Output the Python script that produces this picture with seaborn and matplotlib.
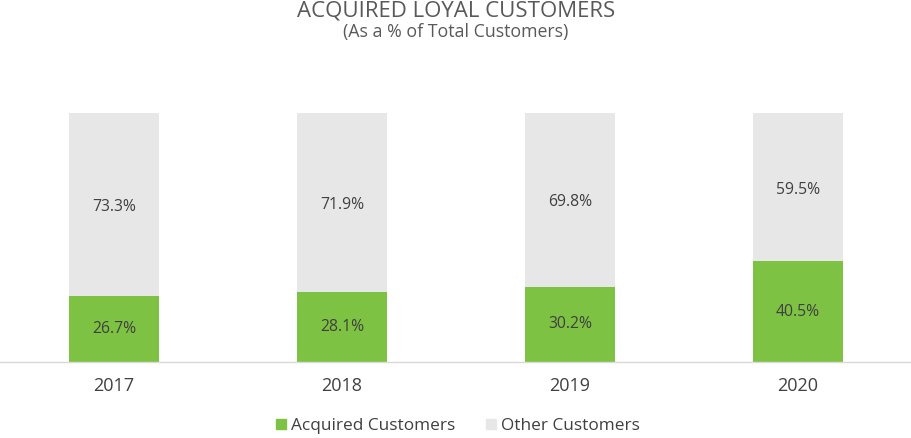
import matplotlib.pyplot as plt
from matplotlib.lines import Line2D
import pandas as pd
import seaborn as sns

sns.set_theme(style="white")
plt.rcParams['font.family'] = ['Open Sans', 'DejaVu Sans']

years = ["2017", "2018", "2019", "2020"]
acquired = [26.7, 28.1, 30.2, 40.5]
other = [73.3, 71.9, 69.8, 59.5]

green = "#7DC242"
grey = "#E7E7E7"
text_col = "#404040"

df = pd.DataFrame({"year": years, "acquired": acquired, "other": other})
df["total"] = df["acquired"] + df["other"]

fig = plt.figure(figsize=(9.12, 4.38), dpi=100)
ax = fig.add_axes([0, 76 / 438, 1, 249 / 438])

sns.barplot(data=df, x="year", y="total", color=grey, width=0.395,
            saturation=1, linewidth=0, ax=ax)
sns.barplot(data=df, x="year", y="acquired", color=green, width=0.395,
            saturation=1, linewidth=0, ax=ax)

for i, row in df.iterrows():
    ax.text(i, row["acquired"] / 2, f"{row['acquired']:.1f}%", ha="center",
            va="center", fontsize=11.3, color=text_col)
    ax.text(i, row["acquired"] + row["other"] / 2 - 1, f"{row['other']:.1f}%",
            ha="center", va="center", fontsize=11.3, color=text_col)

ax.set_xlim(-0.5, 3.5)
ax.set_ylim(0, 100)
ax.set_xlabel("")
ax.set_ylabel("")
ax.set_yticks([])
ax.tick_params(axis="x", length=0, labelsize=13, labelcolor=text_col, pad=11)
for side in ["top", "left", "right"]:
    ax.spines[side].set_visible(False)
ax.spines["bottom"].set_color("#D9D9D9")
ax.spines["bottom"].set_linewidth(1)

fig.text(0.5, 1.0, "ACQUIRED LOYAL CUSTOMERS", ha="center",
         va="top", fontsize=16, color="#595959")
fig.text(0.5, 1 - 32 / 438, "(As a % of Total Customers)", ha="center",
         va="center", fontsize=12.8, color="#595959")

handles = [
    Line2D([], [], marker="s", linestyle="", color=green, markersize=7.5),
    Line2D([], [], marker="s", linestyle="", color=grey, markersize=7.5),
]
fig.legend(handles, ["Acquired Customers", "Other Customers"], loc="center",
           bbox_to_anchor=(0.5, 1 - 426 / 438), ncol=2, frameon=False,
           fontsize=12.4, labelcolor=text_col, handletextpad=0.05,
           columnspacing=1.6, handlelength=1)

fig.savefig("out.png", dpi=100)
